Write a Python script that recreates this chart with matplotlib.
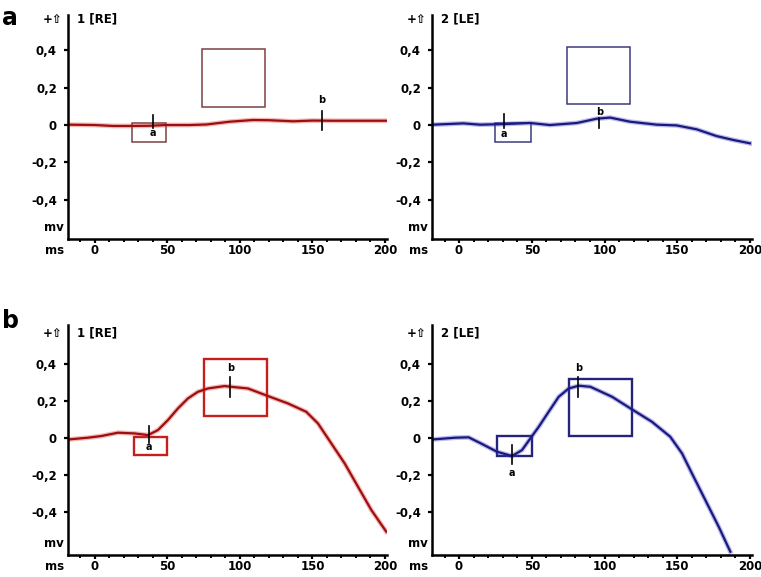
import matplotlib.pyplot as plt
from matplotlib.patches import Rectangle
from matplotlib.ticker import MultipleLocator

# ---------------------------------------------------------------------------
# Traces (time in ms, amplitude in mV)
# ---------------------------------------------------------------------------
t_a_re = [-18.4, 0, 12.6, 24, 37, 49, 65.5, 77, 93, 109, 120, 136.7, 150, 164, 180, 201]
v_a_re = [0.002, 0.0, -0.005, -0.005, -0.004, 0.0, 0.0, 0.003, 0.018, 0.027, 0.026, 0.02, 0.024, 0.023, 0.023, 0.023]

t_a_le = [-18, 3, 14.4, 30.5, 48.8, 62.5, 81, 94.6, 103.8, 117.5, 135.9, 149.6, 163.4, 177, 188.5, 200]
v_a_le = [0.002, 0.009, 0.002, 0.005, 0.011, 0.0, 0.011, 0.034, 0.04, 0.018, 0.002, -0.002, -0.023, -0.059, -0.08, -0.098]

t_b_re = [-17.5, -4.8, 4.4, 15.9, 27.4, 36.6, 43.4, 50.3, 57.2, 64.1, 71, 77.9, 89.4, 94,
          105.5, 119.3, 133.1, 145.7, 153.8, 163, 172.2, 181.4, 190.6, 200.9]
v_b_re = [-0.007, 0.002, 0.011, 0.029, 0.025, 0.016, 0.043, 0.097, 0.16, 0.214, 0.25, 0.268, 0.281, 0.277,
          0.268, 0.227, 0.187, 0.142, 0.079, -0.029, -0.137, -0.263, -0.389, -0.506]

t_b_le = [-17.4, -2.5, 6.6, 15.8, 26.1, 36.4, 43.3, 49, 54.8, 61.6, 68.5, 75.4, 82.3, 90.3,
          105.2, 118.9, 132.6, 145.2, 153.3, 160.1, 169.3, 178.5, 186.5]
v_b_le = [-0.007, 0.002, 0.004, -0.032, -0.074, -0.097, -0.065, -0.002, 0.061, 0.142, 0.223, 0.268, 0.283, 0.277,
          0.223, 0.155, 0.088, 0.007, -0.083, -0.191, -0.335, -0.479, -0.614]

# normal-range windows: (t_start, t_end, v_low, v_high)
a_win = [(25.3, 49.0, -0.093, 0.012), (24.7, 49.3, -0.09, 0.01),
         (27.0, 49.9, -0.094, 0.007), (26.1, 50.4, -0.096, 0.009)]
b_win = [(73.8, 117.0, 0.098, 0.407), (74.4, 117.5, 0.113, 0.417),
         (75.4, 118.4, 0.12, 0.427), (75.8, 118.9, 0.011, 0.317)]

# wave markers: (time, v_top, v_bottom, label_v)
a_mark = [(39.8, 0.054, -0.014, -0.045), (31.1, 0.058, -0.017, -0.05),
          (37.2, 0.065, -0.025, -0.05), (36.2, -0.04, -0.14, -0.188)]
b_mark = [(156.6, 0.075, -0.027, 0.134), (96.5, 0.036, -0.016, 0.07),
          (93.3, 0.328, 0.22, 0.377), (82.0, 0.332, 0.223, 0.377)]

titles = ['1 [RE]', '2 [LE]', '1 [RE]', '2 [LE]']
yticks = [-0.4, -0.2, 0, 0.2, 0.4]
ytick_labels = ['-0,4', '-0,2', '0', '0,2', '0,4']
xticks = [0, 50, 100, 150, 200]

traces = [(t_a_re, v_a_re), (t_a_le, v_a_le), (t_b_re, v_b_re), (t_b_le, v_b_le)]
line_colors = ['#9c0f0f', '#1a1a7e', '#9c0f0f', '#1a1a7e']
halo_colors = ['#e03434', '#4040c4', '#e03434', '#4040c4']
box_colors = ['#7d4040', '#3a3a7e', '#c41f1c', '#24247c']
box_lw = [1.1, 1.1, 1.7, 1.7]

W, H = 761, 577
fig = plt.figure(figsize=(W / 100, H / 100), dpi=100)

# axes rectangles in pixels: (left, right, top, x-axis y)
rects = [(68, 387, 15, 239), (432, 752, 15, 239),
         (68, 387, 325, 555), (432, 752, 325, 555)]
xlim = (-18.6, 201.4)
ylims = [(-0.611, 0.59), (-0.611, 0.59), (-0.632, 0.611), (-0.632, 0.611)]
title_y = [0.982, 0.982, 0.964, 0.964]

for i in range(4):
    l, r, top, bot = rects[i]
    ax = fig.add_axes([l / W, 1 - bot / H, (r - l) / W, (bot - top) / H])
    ax.set_xlim(*xlim)
    ax.set_ylim(*ylims[i])
    for s in ['top', 'right']:
        ax.spines[s].set_visible(False)
    for s in ['left', 'bottom']:
        ax.spines[s].set_linewidth(1.8)

    ax.set_yticks(yticks)
    ax.set_yticklabels(ytick_labels, fontsize=8.5, fontweight='bold')
    ax.set_xticks(xticks)
    ax.set_xticklabels([str(x) for x in xticks], fontsize=8.5, fontweight='bold')
    ax.xaxis.set_minor_locator(MultipleLocator(10))
    ax.tick_params(axis='both', which='major', length=3, width=1.6)
    ax.tick_params(axis='x', which='major', pad=0.8)
    ax.tick_params(axis='x', which='minor', length=2.2, width=1.4)
    ax.tick_params(axis='y', pad=5)

    t, v = traces[i]
    ax.plot(t, v, color=halo_colors[i], lw=3.4, alpha=0.35)
    ax.plot(t, v, color=line_colors[i], lw=1.6)

    for win in (a_win[i], b_win[i]):
        t0, t1, v0, v1 = win
        ax.add_patch(Rectangle((t0, v0), t1 - t0, v1 - v0, fill=False,
                               edgecolor=box_colors[i], lw=box_lw[i]))

    tm, vt, vb, vl = a_mark[i]
    ax.plot([tm, tm], [vt, vb], color='black', lw=1.2)
    ax.text(tm, vl, 'a', fontsize=7, fontweight='bold', ha='center', va='center')
    tm, vt, vb, vl = b_mark[i]
    ax.plot([tm, tm], [vt, vb], color='black', lw=1.2)
    ax.text(tm, vl, 'b', fontsize=7, fontweight='bold', ha='center', va='center')

    ax.text(0.028, title_y[i], titles[i], transform=ax.transAxes,
            fontsize=8.5, fontweight='bold', ha='left', va='center')
    ax.text(-0.048, title_y[i], '+⇧', transform=ax.transAxes,
            fontsize=8.5, fontweight='bold', ha='center', va='center')
    ax.text(-0.045, 0.05, 'mv', transform=ax.transAxes,
            fontsize=8.5, fontweight='bold', ha='center', va='center')
    ax.text(-0.042, -0.05, 'ms', transform=ax.transAxes,
            fontsize=8.5, fontweight='bold', ha='center', va='center')

fig.text(0.003, 0.99, 'a', fontsize=17, fontweight='bold', ha='left', va='top')
fig.text(0.003, 0.465, 'b', fontsize=17, fontweight='bold', ha='left', va='top')

fig.savefig('out.png', dpi=100)
